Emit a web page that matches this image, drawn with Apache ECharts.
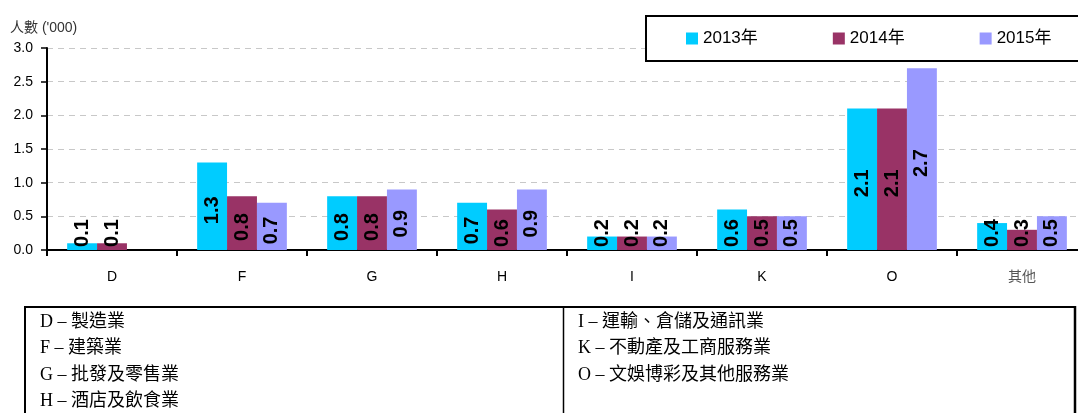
<!DOCTYPE html>
<html>
<head>
<meta charset="utf-8">
<script src="https://cdn.jsdelivr.net/npm/echarts@6/dist/echarts.min.js"></script>
<style>
html,body{margin:0;padding:0;background:#fff;}
#c{width:1078px;height:413px;}
</style>
</head>
<body>
<div id="c"></div>
<script>
const categories = ['D', 'F', 'G', 'H', 'I', 'K', 'O', '其他'];
const years = ['2013年', '2014年', '2015年'];
const values2013 = [0.1, 1.3, 0.8, 0.7, 0.2, 0.6, 2.1, 0.4];
const values2014 = [0.1, 0.8, 0.8, 0.6, 0.2, 0.5, 2.1, 0.3];
const values2015 = ['-', 0.7, 0.9, 0.9, 0.2, 0.5, 2.7, 0.5];
const yTicks = { min: 0, max: 3, interval: 0.5 };
const yAxisName = "人數 ('000)";
const notesLeft = ['D – 製造業', 'F – 建築業', 'G – 批發及零售業', 'H – 酒店及飲食業'];
const notesRight = ['I – 運輸、倉儲及通訊業', 'K – 不動產及工商服務業', 'O – 文娛博彩及其他服務業'];

const colors = ['#00CCFF', '#993366', '#9999FF'];
const sans = '"Liberation Sans", Arial, "Noto Sans CJK TC", sans-serif';
const serif = '"Liberation Serif", "Noto Sans CJK TC", serif';

const chart = echarts.init(document.getElementById('c'), null, { renderer: 'canvas' });

function makeSeries(name, data, color) {
  return {
    name: name,
    type: 'bar',
    data: data,
    barGap: '0%',
    barCategoryGap: '31%',
    itemStyle: { color: color },
    label: {
      show: true,
      position: 'inside',
      rotate: 90,
      color: '#000',
      fontFamily: sans,
      fontWeight: 'bold',
      fontSize: 20,
      formatter: p => Number(p.value).toFixed(1)
    },
    labelLayout: function (p) {
      const r = p.rect;
      // offset is applied in the label's rotated frame: +dx moves up the screen
      return { dx: -Math.min(4, r.height / 2 - 17) };
    }
  };
}

const graphics = [
  { type: 'rect', z: 3, shape: { x: 646, y: 16, width: 470, height: 45 },
    style: { fill: '#fff', stroke: '#000', lineWidth: 2 } },
  { type: 'text', left: 10, top: 21, z: 3,
    style: { text: yAxisName, fill: '#333', font: '14px ' + sans } },
  { type: 'line', shape: { x1: 24, y1: 307, x2: 1076, y2: 307 }, style: { stroke: '#000', lineWidth: 2 } },
  { type: 'line', shape: { x1: 25, y1: 306, x2: 25, y2: 420 }, style: { stroke: '#000', lineWidth: 2 } },
  { type: 'line', shape: { x1: 563.5, y1: 307, x2: 563.5, y2: 420 }, style: { stroke: '#000', lineWidth: 1.5 } },
  { type: 'line', shape: { x1: 1075, y1: 306, x2: 1075, y2: 420 }, style: { stroke: '#000', lineWidth: 2.5 } }
];
notesLeft.forEach((t, i) => {
  graphics.push({ type: 'text', x: 40, y: 322 + i * 26.5,
    style: { text: t, fill: '#000', font: '18px ' + serif, verticalAlign: 'middle' } });
});
notesRight.forEach((t, i) => {
  graphics.push({ type: 'text', x: 578, y: 322 + i * 26.5,
    style: { text: t, fill: '#000', font: '18px ' + serif, verticalAlign: 'middle' } });
});

chart.setOption({
  animation: false,
  backgroundColor: '#fff',
  textStyle: { fontFamily: sans },
  grid: { left: 47, width: 1040, top: 48, height: 202, containLabel: false, outerBoundsMode: 'none' },
  legend: {
    data: years,
    left: 686,
    top: 30,
    padding: 0,
    z: 5,
    itemWidth: 12,
    itemHeight: 12,
    itemGap: 75,
    icon: 'rect',
    textStyle: { fontSize: 17, color: '#000', fontFamily: sans }
  },
  xAxis: {
    type: 'category',
    data: categories,
    axisLine: { show: true, lineStyle: { color: '#000', width: 2 } },
    axisTick: { show: true, length: 6, interval: 0, alignWithLabel: false, lineStyle: { color: '#000', width: 2 } },
    axisLabel: {
      interval: 0,
      margin: 20,
      fontSize: 14,
      fontFamily: sans,
      color: (v) => (v === '其他' ? '#555' : '#000')
    },
    splitLine: { show: false }
  },
  yAxis: {
    type: 'value',
    min: yTicks.min,
    max: yTicks.max,
    interval: yTicks.interval,
    axisLine: { show: true, lineStyle: { color: '#000', width: 2 } },
    axisTick: { show: true, length: 6, lineStyle: { color: '#000', width: 1.5 } },
    axisLabel: { margin: 14, fontSize: 14, color: '#000', fontFamily: sans, formatter: v => v.toFixed(1) },
    splitLine: { show: true, lineStyle: { color: '#c8c8c8', type: [6, 5], width: 1 } }
  },
  graphic: graphics,
  series: [
    makeSeries(years[0], values2013, colors[0]),
    makeSeries(years[1], values2014, colors[1]),
    makeSeries(years[2], values2015, colors[2])
  ]
});
</script>
</body>
</html>
